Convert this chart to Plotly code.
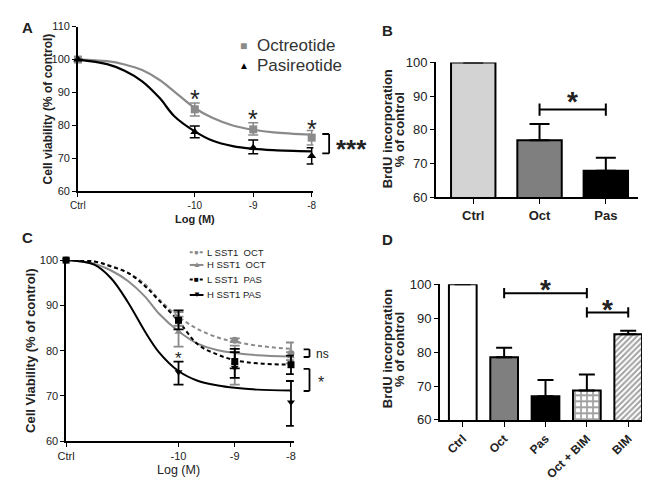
import plotly.graph_objects as go

W, H = 650, 480
FONT = "Liberation Sans, Arial, sans-serif"
NARROW = "Liberation Sans Narrow, Liberation Sans, Arial, sans-serif"
GRAY = "#8a8a8a"

# ---- panel A: cell viability, octreotide vs pasireotide ----
a_dose = [-12, -10, -9, -8]
a_oct = [100, 84.9, 78.8, 76.3]
a_oct_up = [0, 1.9, 2.0, 2.2]
a_oct_dn = [0, 2.0, 1.7, 2.2]
a_pas = [100, 78.0, 73.2, 70.7]
a_pas_up = [0, 1.8, 2.4, 2.5]
a_pas_dn = [0, 1.7, 1.8, 2.4]
# fitted curves
a_fit_x = [-12, -11.5, -11.2, -10.9, -10.6, -10.35, -10, -9.7, -9.35, -9, -8.65, -8]
a_fit_oct = [100, 99.5, 98.5, 96.8, 93.8, 90.3, 85.3, 82.3, 80.0, 78.7, 77.9, 77.2]
a_fit_pas = [100, 98.6, 96.6, 93.4, 88.3, 82.8, 78.2, 75.4, 73.7, 72.9, 72.5, 72.1]
a_names = ["Octreotide", "Pasireotide"]

# ---- panel B: BrdU incorporation ----
b_cats = ["Ctrl", "Oct", "Pas"]
b_vals = [100, 76.9, 67.8]
b_err = [0, 4.8, 3.9]
b_colors = ["#d3d3d3", "#7f7f7f", "#000000"]

# ---- panel C: cell viability by SST1 expression ----
c_dose = [-12, -10, -9, -8]
c_names = ["L SST1  OCT", "H SST1  OCT", "L SST1  PAS", "H SST1 PAS"]
c_vals = [
    [100, 87.0, 82.3, 79.4],
    [100, 84.1, 77.5, 78.7],
    [100, 86.7, 77.6, 76.9],
    [100, 75.3, 76.3, 68.6],
]
c_up = [[0, 1.5, 0.4, 2.4], [0, 3.4, 3.6, 1.0], [0, 2.2, 2.8, 2.0], [0, 2.3, 3.4, 4.7]]
c_dn = [[0, 1.5, 0.4, 1.5], [0, 3.2, 5.0, 1.5], [0, 2.0, 1.5, 2.1], [0, 2.8, 2.3, 5.2]]
c_fit_x = [-12, -11.5, -11.2, -10.9, -10.6, -10.35, -10, -9.65, -9.3, -9, -8.6, -8]
c_fits = [
    [100, 99.7, 98.7, 97.2, 94.7, 91.4, 87.5, 84.7, 82.9, 82.0, 81.1, 80.4],
    [100, 99.2, 97.7, 95.4, 92.0, 88.2, 84.3, 81.5, 80.1, 79.5, 79.0, 78.7],
    [100, 99.7, 98.6, 97.2, 94.3, 91.1, 86.5, 81.3, 79.1, 77.9, 77.2, 76.9],
    [100, 99.0, 96.0, 90.7, 84.3, 79.7, 75.5, 73.3, 72.3, 71.8, 71.4, 71.2],
]
c_colors = [GRAY, GRAY, "black", "black"]
c_dash = ["4px,3px", "solid", "4px,3px", "solid"]
c_symbols = ["circle", "triangle-up", "square", "triangle-down"]
c_glyphs = ["\u25cf", "\u25b2", "\u25a0", "\u25bc"]

# ---- panel D: BrdU with BIM ----
d_cats = ["Ctrl", "Oct", "Pas", "Oct + BIM", "BIM"]
d_vals = [100, 78.5, 67.0, 68.7, 85.3]
d_err = [0, 2.8, 4.8, 4.7, 1.0]
d_colors = ["white", "#7f7f7f", "#000000", "white", "white"]
d_patterns = ["", "", "", "+", "/"]


def px(x):
    return x / W


def py(y):
    return 1 - y / H


fig = go.Figure()

# panel A
for vals, up, dn, fit, col, sym in [
    (a_oct, a_oct_up, a_oct_dn, a_fit_oct, GRAY, "square"),
    (a_pas, a_pas_up, a_pas_dn, a_fit_pas, "black", "triangle-up"),
]:
    fig.add_trace(go.Scatter(x=a_fit_x, y=fit, mode="lines", line=dict(color=col, width=2.2, shape="spline"),
                             showlegend=False, xaxis="x", yaxis="y", cliponaxis=False))
    fig.add_trace(go.Scatter(x=a_dose, y=vals, mode="markers", showlegend=False,
                             marker=dict(color=col, symbol=sym, size=8),
                             error_y=dict(type="data", array=up, arrayminus=dn, symmetric=False,
                                          color=col, thickness=1.5, width=5),
                             xaxis="x", yaxis="y", cliponaxis=False))

# panel B
fig.add_trace(go.Bar(x=b_cats, y=b_vals, width=0.67, showlegend=False,
                     marker=dict(color=b_colors, line=dict(color="black", width=2)),
                     error_y=dict(type="data", array=b_err, arrayminus=[0] * 3, symmetric=False,
                                  color="black", thickness=2, width=10),
                     xaxis="x2", yaxis="y2"))

# panel C
for i in range(4):
    fig.add_trace(go.Scatter(x=c_fit_x, y=c_fits[i], mode="lines", showlegend=False,
                             line=dict(color=c_colors[i], width=2, dash=c_dash[i], shape="spline"),
                             xaxis="x3", yaxis="y3", cliponaxis=False))
for i in range(4):
    fig.add_trace(go.Scatter(x=c_dose, y=c_vals[i], mode="markers", showlegend=False,
                             marker=dict(color=c_colors[i], symbol=c_symbols[i], size=7),
                             error_y=dict(type="data", array=c_up[i], arrayminus=c_dn[i], symmetric=False,
                                          color=c_colors[i], thickness=1.8, width=5),
                             xaxis="x3", yaxis="y3", cliponaxis=False))

# panel D
fig.add_trace(go.Bar(x=d_cats, y=d_vals, width=0.67, showlegend=False,
                     marker=dict(color=d_colors, line=dict(color="black", width=2),
                                 pattern=dict(shape=d_patterns, fgcolor="black", bgcolor="white",
                                              size=[5, 5, 5, 6, 4], solidity=[0.5, 0.5, 0.5, 0.5, 0.5],
                                              fillmode="overlay")),
                     error_y=dict(type="data", array=d_err, arrayminus=[0] * 5, symmetric=False,
                                  color="black", thickness=2, width=8),
                     xaxis="x4", yaxis="y4"))

axis_common = dict(showline=True, linecolor="black", showgrid=False, zeroline=False,
                   ticks="outside", tickcolor="black", ticklen=4, fixedrange=True)

fig.update_layout(
    width=W, height=H, margin=dict(l=0, r=0, t=0, b=0),
    paper_bgcolor="white", plot_bgcolor="white", showlegend=False,
    font=dict(family=FONT, color="#222"),
    xaxis=dict(axis_common, domain=[px(62), px(302)], anchor="y", range=[-12, -7.97],
               tickvals=[-12, -10, -9, -8], ticktext=["Ctrl", "-10", "-9", "-8"],
               linewidth=1.5, tickfont=dict(size=10)),
    yaxis=dict(axis_common, domain=[py(182), py(12)], anchor="x", range=[60, 110], dtick=10,
               linewidth=1.5, tickfont=dict(size=11)),
    xaxis2=dict(axis_common, domain=[px(427), px(633)], anchor="y2", type="category",
                range=[-0.56, 2.49], linewidth=2, ticklen=5, tickfont=dict(size=13),
                tickvals=b_cats, ticktext=["<b>%s</b>" % c for c in b_cats]),
    yaxis2=dict(axis_common, domain=[py(188), py(49)], anchor="x2", range=[60, 100], dtick=10,
                linewidth=2, tickfont=dict(size=13)),
    xaxis3=dict(axis_common, domain=[px(50), px(282)], anchor="y3", range=[-12, -7.95],
                tickvals=[-12, -10, -9, -8], ticktext=["Ctrl", "-10", "-9", "-8"],
                linewidth=1.5, tickfont=dict(size=11)),
    yaxis3=dict(axis_common, domain=[py(440), py(253)], anchor="x3", range=[60, 100], dtick=10,
                linewidth=1.5, tickfont=dict(size=11)),
    xaxis4=dict(axis_common, domain=[px(431), px(648)], anchor="y4", type="category",
                range=[-0.55, 4.6], linewidth=2, ticklen=5, tickangle=-45,
                tickvals=d_cats, ticktext=["<b>%s</b>" % c for c in d_cats], tickfont=dict(size=12)),
    yaxis4=dict(axis_common, domain=[py(418), py(278)], anchor="x4", range=[60, 100], dtick=10,
                linewidth=2, tickfont=dict(size=13)),
)

ann = []


def text(x, y, s, size, bold=False, angle=0, ref=("paper", "paper"), color="#222",
         anchor="center", family=FONT):
    ann.append(dict(x=x, y=y, xref=ref[0], yref=ref[1], text=("<b>%s</b>" % s) if bold else s,
                    showarrow=False, textangle=angle, font=dict(size=size, color=color, family=family),
                    xanchor=anchor, yanchor="middle"))


# panel letters
text(px(11), py(13), "A", 15, True)
text(px(377), py(16), "B", 15, True)
text(px(11), py(230), "C", 15, True)
text(px(377), py(232), "D", 15, True)

# axis titles
text(px(32), py(97), "Cell viability (% of control)", 12, True, -90)
text(px(181), py(211), "Log (M)", 11, True)
text(px(377), py(118), "BrdU incorporation", 13, True, -90)
text(px(389), py(118), "% of control", 13, True, -90)
text(px(13), py(347), "Cell Viability (% of control)", 13, True, -90)
text(px(165), py(470), "Log (M)", 12.5)
text(px(377), py(345), "BrdU incorporation", 13, True, -90)
text(px(389), py(345), "% of control", 13, True, -90)

# legend A
for i, (glyph, col, size) in enumerate([("\u25a0", GRAY, 12), ("\u25b2", "black", 10)]):
    yy = 32 + 20 * i
    text(px(231), py(yy), glyph, size, False, 0, color=col)
    text(px(242), py(yy), a_names[i], 17, anchor="left", color="#333")

# legend C
shapes = []
for i in range(4):
    yy = [245, 258, 273, 289][i]
    shapes.append(dict(type="line", xref="paper", yref="paper", x0=px(176), x1=px(190),
                       y0=py(yy), y1=py(yy),
                       line=dict(color=c_colors[i], width=2, dash="3px,2px" if c_dash[i] != "solid" else "solid")))
    text(px(183), py(yy), c_glyphs[i], 8, False, 0, color=c_colors[i])
    text(px(192), py(yy), c_names[i], 9.5, anchor="left", color="#222", family=NARROW)

# stars in A
for xv, yv in [(-10, 88.0), (-9, 81.9), (-8, 78.8)]:
    text(xv, yv, "*", 25, False, 0, ("x", "y"))
text(px(341), py(138), "***", 26, True)
# stars / ns in C
text(-10, 78.25, "*", 17, False, 0, ("x3", "y3"))
text(px(311), py(350), "ns", 12)
text(px(310), py(379), "*", 16)
# stars in B, D
text(1.5, 88.3, "*", 28, True, 0, ("x2", "y2"))
text(2.0, 98.4, "*", 28, True, 0, ("x4", "y4"))
text(3.5, 92.7, "*", 28, True, 0, ("x4", "y4"))

fig.update_layout(annotations=ann)


def line(x0, y0, x1, y1, xref, yref, w=2):
    shapes.append(dict(type="line", x0=x0, y0=y0, x1=x1, y1=y1, xref=xref, yref=yref,
                       line=dict(color="black", width=w)))


def bracket_h(x0, x1, y, tick, xref, yref):
    line(x0, y, x1, y, xref, yref)
    line(x0, y - tick, x0, y + tick, xref, yref)
    line(x1, y - tick, x1, y + tick, xref, yref)


def bracket_v(xl, xr, y0, y1, yref):
    line(xr, y0, xr, y1, "paper", yref, 1.8)
    line(xl, y0, xr, y0, "paper", yref, 1.8)
    line(xl, y1, xr, y1, "paper", yref, 1.8)


bracket_h(1, 2, 86.0, 1.8, "x2", "y2")
bracket_h(1, 3, 97.4, 1.5, "x4", "y4")
bracket_h(3, 4, 91.7, 1.5, "x4", "y4")
bracket_v(px(311), px(318), 77.4, 71.5, "y")
bracket_v(px(292), px(298), 80.3, 78.6, "y3")
bracket_v(px(292), px(298), 76.0, 71.1, "y3")

fig.update_layout(shapes=shapes)

fig.write_html("out.html")
